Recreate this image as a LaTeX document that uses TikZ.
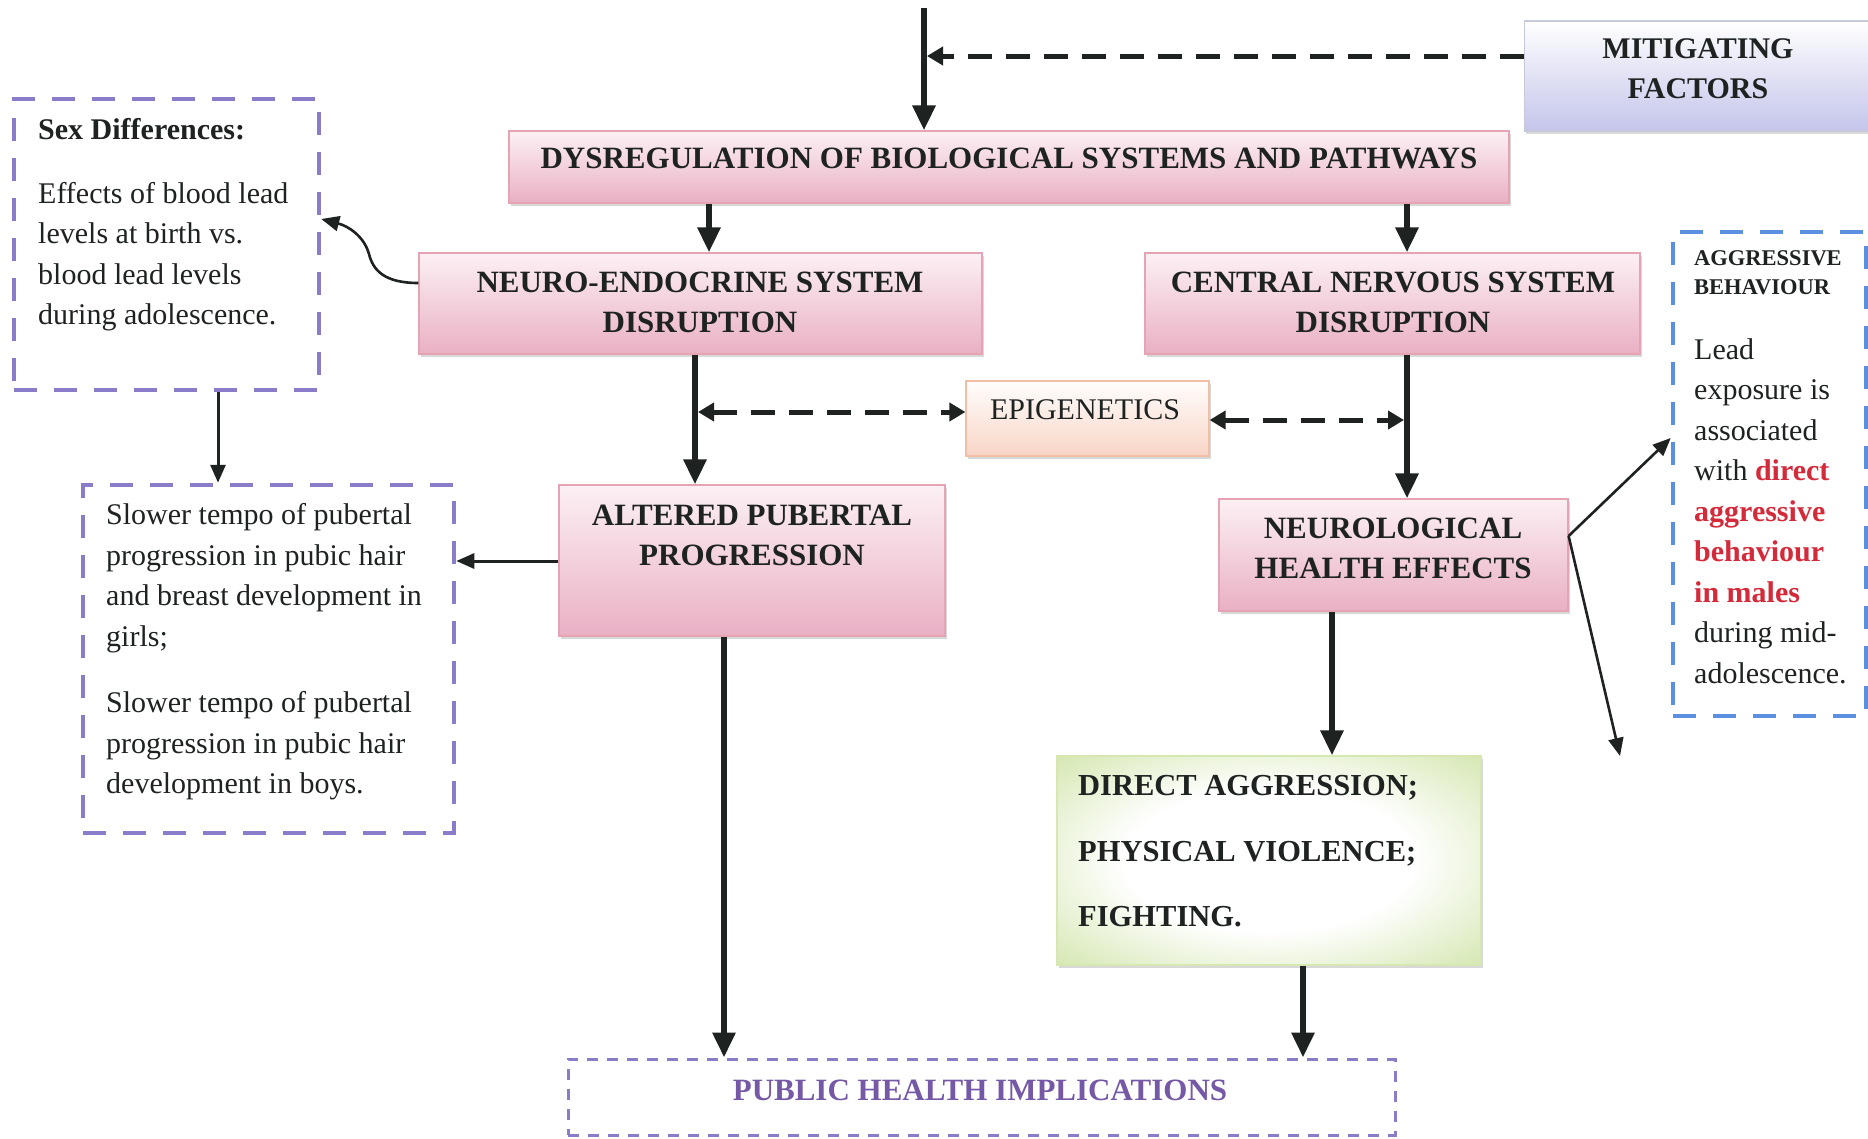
\documentclass[tikz,border=0pt]{standalone}
\usepackage{fontspec}
\setmainfont{Liberation Serif}
\usetikzlibrary{arrows.meta,shadows}

\definecolor{ink}{HTML}{1E2322}
\definecolor{pinkedge}{HTML}{E6A3B4}
\definecolor{pinktop}{HTML}{FCF0F4}
\definecolor{pinkbot}{HTML}{E9B0C4}
\definecolor{lavedge}{HTML}{C6C8DC}
\definecolor{lavbot}{HTML}{C4C5EA}
\definecolor{peachedge}{HTML}{F0BFA6}
\definecolor{peachbot}{HTML}{F8D5C6}
\definecolor{greenout}{HTML}{CDE2A2}
\definecolor{greenedge}{HTML}{D6E7B2}
\definecolor{violetdash}{HTML}{8B7CC9}
\definecolor{bluedash}{HTML}{5B8FE0}
\definecolor{phtext}{HTML}{7558A6}
\definecolor{redtext}{HTML}{D42A3A}

\newcommand\fBold{\fontsize{31pt}{40pt}\selectfont\bfseries}
\newcommand\fBody{\fontsize{30pt}{40.5pt}\selectfont}
\newcommand\fHead{\fontsize{22.5pt}{28.6pt}\selectfont\bfseries}

% a soft radial fill: white centre fading to light green towards the rim
\pgfdeclareradialshading{softgreen}{\pgfpoint{0bp}{0bp}}{%
  color(0bp)=(white); color(17bp)=(white); color(36bp)=(greenout!85!white); color(50bp)=(greenout); color(75bp)=(greenout)}

\begin{document}
\begin{tikzpicture}[x=1pt,y=-1pt,
  boxshadow/.style={drop shadow={shadow xshift=1.5pt,shadow yshift=-3pt,fill=black!30}},
  pinkbox/.style={draw=pinkedge,line width=1.2pt,top color=pinktop,bottom color=pinkbot,boxshadow,inner sep=0pt},
  lavbox/.style={draw=lavedge,line width=1.2pt,top color=white,bottom color=lavbot,boxshadow,inner sep=0pt},
  peachbox/.style={draw=peachedge,line width=1.2pt,top color=white!96!peachbot,bottom color=peachbot,boxshadow,inner sep=0pt},
  greenbox/.style={draw=greenedge,line width=1.2pt,shading=softgreen,boxshadow,inner sep=0pt},
  violetbox/.style={draw=violetdash,line width=4.5pt,dash pattern=on 23pt off 17pt,inner sep=0pt},
  bluebox/.style={draw=bluedash,line width=4.5pt,dash pattern=on 23pt off 17pt,inner sep=0pt},
  capsline/.style={text=ink,font=\fBold,align=center,inner sep=0pt},
  bodytext/.style={text=ink,font=\fBody,align=left,inner sep=0pt,anchor=west},
  mainarrow/.style={draw=ink,line width=6pt,-{Triangle[length=25pt,width=22pt]}},
  thinarrow/.style={draw=ink,line width=2.6pt,-{Triangle[length=18pt,width=15pt]}},
  dashline/.style={draw=ink,line width=5pt,dash pattern=on 24pt off 14pt},
  dasharrow/.style={dashline,
    {Triangle[length=16pt,width=18pt]}-{Triangle[length=16pt,width=18pt]}},
]
\useasboundingbox (0,0) rectangle (1868,1138);
\fill[white] (0,0) rectangle (1868,1138);

% ---- boxes ----
\node[lavbox,minimum width=355pt,minimum height=110pt] (mit) at (1702,76) {};
\node[pinkbox,minimum width=1000pt,minimum height=72pt] (dys) at (1009,167) {};
\node[pinkbox,minimum width=563pt,minimum height=101pt] (neu) at (700.5,303.5) {};
\node[pinkbox,minimum width=495pt,minimum height=101pt] (cns) at (1392.5,303.5) {};
\node[pinkbox,minimum width=386pt,minimum height=151pt] (alt) at (752,560.5) {};
\node[peachbox,minimum width=243pt,minimum height=75pt] (epi) at (1087.5,418.5) {};
\node[pinkbox,minimum width=349pt,minimum height=112pt] (neuro) at (1393.5,555) {};
\node[greenbox,minimum width=424pt,minimum height=209pt] (dag) at (1269,860.5) {};
\node[violetbox,minimum width=305pt,minimum height=291pt] (sex) at (166.5,244.5) {};
\node[violetbox,minimum width=371pt,minimum height=348pt] (slow) at (268.5,659) {};
\node[bluebox,minimum width=193pt,minimum height=484pt] (agg) at (1769.5,474) {};
\node[draw=violetdash,line width=3pt,dash pattern=on 11pt off 9pt,inner sep=0pt,
      minimum width=827pt,minimum height=76pt] (pub) at (981.5,1097) {};

% ---- texts ----
\node[capsline,font=\fontsize{30pt}{40pt}\selectfont\bfseries] (mitT) at (1698,69) {MITIGATING\\FACTORS};
\node[capsline] (dysT) at (1009,158) {DYSREGULATION OF BIOLOGICAL SYSTEMS AND PATHWAYS};
\node[capsline] (neuT) at (700,302) {NEURO-ENDOCRINE SYSTEM\\DISRUPTION};
\node[capsline] (cnsT) at (1393,302) {CENTRAL NERVOUS SYSTEM\\DISRUPTION};
\node[capsline] (altT) at (752,535) {ALTERED PUBERTAL\\PROGRESSION};
\node[capsline,font=\fontsize{30pt}{36pt}\selectfont] (epiT) at (1085,410) {EPIGENETICS};
\node[capsline] (neuroT) at (1393,548) {NEUROLOGICAL\\HEALTH EFFECTS};
\node[capsline,text=phtext] (pubT) at (980,1090) {PUBLIC HEALTH IMPLICATIONS};
\node[capsline,align=left,anchor=west,font=\fontsize{30.5pt}{65.5pt}\selectfont\bfseries] (dagT) at (1078,851.5)
  {DIRECT AGGRESSION;\\PHYSICAL VIOLENCE;\\FIGHTING.};

\node[bodytext,font=\fBody\bfseries] (sexH) at (38,129) {Sex Differences:};
\node[bodytext] (sexB) at (38,256.5)
  {Effects of blood lead\\levels at birth vs.\\blood lead levels\\during adolescence.};
\node[bodytext] (slowB) at (106,652)
  {Slower tempo of pubertal\\progression in pubic hair\\and breast development in\\girls;\\[26pt]
   Slower tempo of pubertal\\progression in pubic hair\\development in boys.};
\node[bodytext,font=\fHead] (aggH) at (1694,273) {AGGRESSIVE\\BEHAVIOUR};
\node[bodytext] (aggB) at (1694,511)
  {Lead\\exposure is\\associated\\with {\color{redtext}\bfseries direct}\\{\color{redtext}\bfseries aggressive}\\
   {\color{redtext}\bfseries behaviour}\\{\color{redtext}\bfseries in males}\\during mid-\\adolescence.};

% ---- connectors ----
\coordinate (feed) at (924,8);
\coordinate (fallout) at (1620,756);
\draw[mainarrow] (feed) -- (dys.north -| feed);
\draw[dashline,-{Triangle[length=16pt,width=18pt]}] (mit.west |- 0,56) -- (927,56);
\draw[mainarrow] (dys.south -| 709,0) -- (neu.north -| 709,0);
\draw[mainarrow] (dys.south -| 1407,0) -- (cns.north -| 1407,0);
\draw[mainarrow] (neu.south -| 695,0) -- (alt.north -| 695,0);
\draw[mainarrow] (cns.south -| 1407,0) -- (neuro.north -| 1407,0);
\draw[mainarrow] (neuro.south -| 1332,0) -- (dag.north -| 1332,0);
\draw[mainarrow] (alt.south -| 724,0) -- (pub.north -| 724,0);
\draw[mainarrow] (dag.south -| 1303,0) -- (pub.north -| 1303,0);

\draw[dasharrow] (698,412) -- (epi.west |- 0,412);
\draw[dasharrow] (epi.east |- 0,420) -- (1404,420);

\draw[thinarrow] (neu.west |- 0,283) .. controls (384,283) and (373,270) .. (369,254)
  .. controls (364,236) and (348,226) .. (sex.east |- 0,219);
\draw[thinarrow,line width=3pt] (sex.south -| 218,0) -- (slow.north -| 218,0);
\draw[thinarrow,line width=3pt] (alt.west |- 0,561) -- (slow.east |- 0,561);
\draw[thinarrow] (neuro.east |- 0,536) -- (agg.west |- 0,438);
\draw[thinarrow] (neuro.east |- 0,536) -- (fallout);
\end{tikzpicture}
\end{document}
